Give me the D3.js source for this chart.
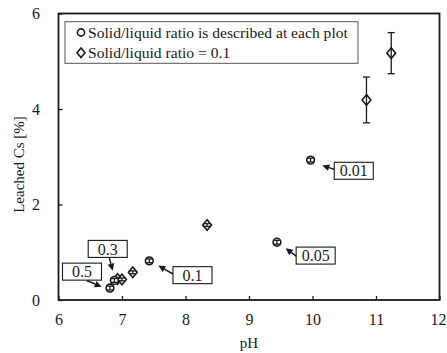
<!DOCTYPE html>
<html>
<head>
<meta charset="utf-8">
<script src="https://cdn.jsdelivr.net/npm/d3@7"></script>
<style>
  html, body { margin: 0; padding: 0; background: #fff; }
  svg { display: block; }
  text { font-family: "Liberation Serif", "Times New Roman", serif; fill: #1a1a1a; }
</style>
</head>
<body>
<svg id="chart" width="447" height="353"></svg>
<script>
// Leaching series: circles carry their own solid/liquid ratio label,
// diamonds were all run at a ratio of 0.1.
const circlePH    = [6.81, 6.88, 7.43, 9.44, 9.97];
const circleCs    = [0.25, 0.41, 0.82, 1.21, 2.93];
const circleErr   = [0.04, 0.04, 0.04, 0.04, 0.04];
const circleRatio = ["0.5", "0.3", "0.1", "0.05", "0.01"];

const diamondPH  = [6.93, 7.00, 7.17, 8.34, 10.85, 11.24];
const diamondCs  = [0.44, 0.43, 0.58, 1.57, 4.19, 5.17];
const diamondErr = [0.03, 0.03, 0.03, 0.03, 0.48, 0.43];

const xTicks = [6, 7, 8, 9, 10, 11, 12];
const yTicks = [0, 2, 4, 6];
const legendLabels = ["Solid/liquid ratio is described at each plot", "Solid/liquid ratio = 0.1"];

// Callout boxes for the ratio labels (data coordinates: box centre, arrow tail, arrow tip)
const calloutBoxPH  = [6.37, 6.775, 8.11, 10.05, 10.65];
const calloutBoxCs  = [0.594, 1.07, 0.52, 0.93, 2.706];
const calloutTailPH = [6.441, 6.798, 7.803, 9.748, 10.339];
const calloutTailCs = [0.409, 0.892, 0.545, 0.913, 2.738];
const calloutTipPH  = [6.68, 6.854, 7.572, 9.578, 10.154];
const calloutTipCs  = [0.279, 0.615, 0.72, 1.085, 2.817];

const svg = d3.select("#chart");
const plot = { left: 58.5, right: 439.5, top: 13.5, bottom: 300 };

const x = d3.scaleLinear().domain([6, 12]).range([plot.left, plot.right]);
const y = d3.scaleLinear().domain([0, 6]).range([plot.bottom, plot.top]);

const ink = "#1a1a1a";

// Axes with inward ticks and integer labels
const xAxis = d3.axisBottom(x).tickValues(xTicks).tickFormat(d3.format("d"))
  .tickSizeInner(-4).tickSizeOuter(0).tickPadding(10);
const yAxis = d3.axisLeft(y).tickValues(yTicks).tickFormat(d3.format("d"))
  .tickSizeInner(-4).tickSizeOuter(0).tickPadding(19);

const gx = svg.append("g").attr("transform", `translate(0,${plot.bottom})`).call(xAxis);
gx.select(".domain").remove();
gx.selectAll("line").attr("stroke", ink).attr("stroke-width", 1.3);
gx.selectAll("text").attr("font-size", 16).attr("fill", ink)
  .attr("font-family", "Liberation Serif").attr("dy", "0.71em").attr("y", 13.5);
// keep the last label inside the page edge
gx.selectAll(".tick").filter(d => d === 12).select("text")
  .attr("text-anchor", "end").attr("x", 6.5);

const gy = svg.append("g").attr("transform", `translate(${plot.left},0)`).call(yAxis);
gy.select(".domain").remove();
gy.selectAll("line").attr("stroke", ink).attr("stroke-width", 1.3);
gy.selectAll("text").attr("font-size", 16).attr("fill", ink)
  .attr("font-family", "Liberation Serif").attr("x", -18.5).attr("dy", "0.34em");

// Plot frame
svg.append("rect")
  .attr("x", plot.left).attr("y", plot.top)
  .attr("width", plot.right - plot.left).attr("height", plot.bottom - plot.top)
  .attr("fill", "none").attr("stroke", ink).attr("stroke-width", 1.8);

// Axis titles
svg.append("text").attr("x", (plot.left + plot.right) / 2).attr("y", 348)
  .attr("text-anchor", "middle").attr("font-size", 15).text("pH");
svg.append("text").attr("transform", "translate(23.5,164.5) rotate(-90)")
  .attr("text-anchor", "middle").attr("font-size", 15).text("Leached Cs [%]");

// Legend
const legend = svg.append("g");
legend.append("rect").attr("x", 65).attr("y", 21.7).attr("width", 293).attr("height", 41.6)
  .attr("fill", "#fff").attr("stroke", "#555").attr("stroke-width", 1);
legend.append("circle").attr("cx", 81).attr("cy", 32.5).attr("r", 3.6)
  .attr("fill", "#fff").attr("stroke", ink).attr("stroke-width", 1.6);
legend.append("path").attr("d", "M81,48 L85,52.7 L81,57.4 L77,52.7 Z")
  .attr("fill", "#fff").attr("stroke", ink).attr("stroke-width", 1.6);
legend.selectAll("text.leg").data(legendLabels).join("text").attr("class", "leg")
  .attr("x", 88).attr("y", (d, i) => 38 + i * 20.3)
  .attr("font-size", 15.6).text(d => d);

// Error bars (vertical line with caps)
function errorBars(g, px, py, pe) {
  const cap = 3.5;
  px.forEach((v, i) => {
    const cx = x(v), lo = y(py[i] - pe[i]), hi = y(py[i] + pe[i]);
    g.append("line").attr("x1", cx).attr("x2", cx).attr("y1", lo).attr("y2", hi);
    g.append("line").attr("x1", cx - cap).attr("x2", cx + cap).attr("y1", lo).attr("y2", lo);
    g.append("line").attr("x1", cx - cap).attr("x2", cx + cap).attr("y1", hi).attr("y2", hi);
  });
  g.attr("stroke", ink).attr("stroke-width", 1.3);
}

// Diamond series
const diamondIdx = d3.range(diamondPH.length);
const dG = svg.append("g");
dG.selectAll("path").data(diamondIdx).join("path")
  .attr("d", i => {
    const cx = x(diamondPH[i]), cy = y(diamondCs[i]);
    return `M${cx},${cy - 5.3} L${cx + 4.4},${cy} L${cx},${cy + 5.3} L${cx - 4.4},${cy} Z`;
  })
  .attr("fill", "#fff").attr("stroke", ink).attr("stroke-width", 1.6);
errorBars(svg.append("g"), diamondPH, diamondCs, diamondErr);

// Circle series
const circleIdx = d3.range(circlePH.length);
const cG = svg.append("g");
cG.selectAll("circle").data(circleIdx).join("circle")
  .attr("cx", i => x(circlePH[i])).attr("cy", i => y(circleCs[i])).attr("r", 3.9)
  .attr("fill", "#fff").attr("stroke", ink).attr("stroke-width", 1.6);
errorBars(svg.append("g"), circlePH, circleCs, circleErr);

// Ratio callouts: arrow from the label box to its point
const calloutIdx = d3.range(circleRatio.length);
const aG = svg.append("g");
calloutIdx.forEach(i => {
  const tx = x(calloutTailPH[i]), ty = y(calloutTailCs[i]);
  const hx = x(calloutTipPH[i]), hy = y(calloutTipCs[i]);
  const dx = hx - tx, dy = hy - ty, len = Math.hypot(dx, dy);
  const ux = dx / len, uy = dy / len;
  const headLen = 7, headW = 3.4;
  const bx = hx - ux * headLen, by = hy - uy * headLen;
  aG.append("line").attr("x1", tx).attr("y1", ty).attr("x2", bx).attr("y2", by)
    .attr("stroke", ink).attr("stroke-width", 1.5);
  aG.append("path")
    .attr("d", `M${hx},${hy} L${bx - uy * headW},${by + ux * headW} L${bx + uy * headW},${by - ux * headW} Z`)
    .attr("fill", ink);
});

const bG = svg.append("g");
const boxW = 39, boxH = 17;
bG.selectAll("rect").data(calloutIdx).join("rect")
  .attr("x", i => x(calloutBoxPH[i]) - boxW / 2).attr("y", i => y(calloutBoxCs[i]) - boxH / 2)
  .attr("width", boxW).attr("height", boxH)
  .attr("fill", "#fff").attr("stroke", ink).attr("stroke-width", 1.1);
bG.selectAll("text").data(calloutIdx).join("text")
  .attr("x", i => x(calloutBoxPH[i])).attr("y", i => y(calloutBoxCs[i]) + 5.6)
  .attr("text-anchor", "middle").attr("font-size", 16).text(i => circleRatio[i]);
</script>
</body>
</html>
